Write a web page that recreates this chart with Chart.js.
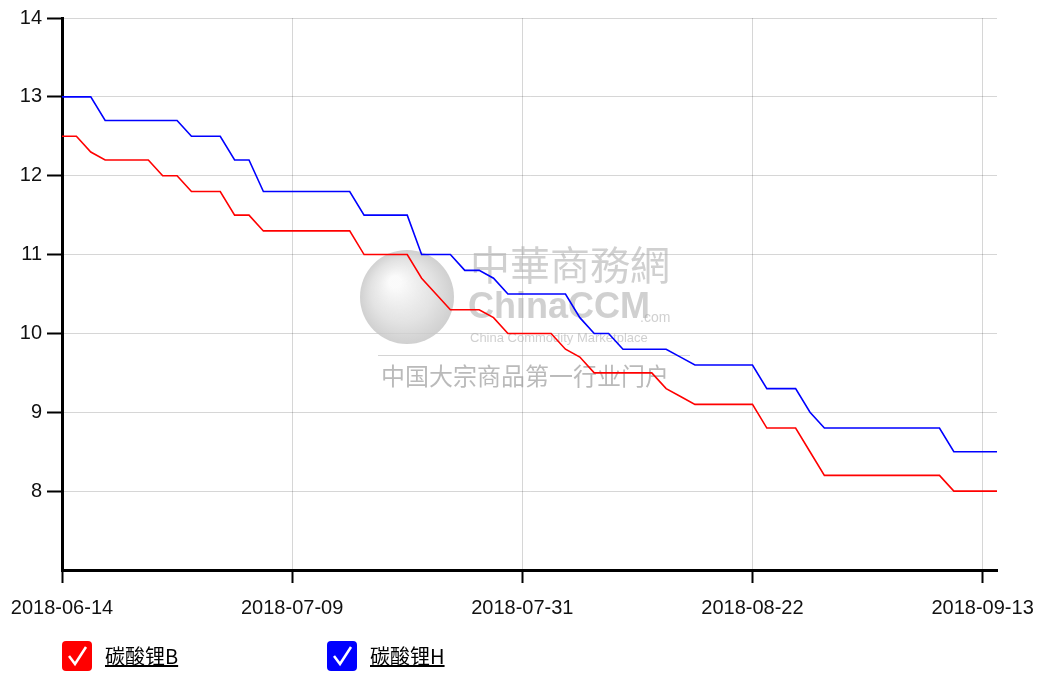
<!DOCTYPE html>
<html>
<head>
<meta charset="utf-8">
<script src="https://cdn.jsdelivr.net/npm/chart.js@4.4.1/dist/chart.umd.min.js"></script>
<style>
  html, body { margin: 0; padding: 0; background: #fff; }
  #wrap { position: relative; width: 1040px; height: 673px; }
  #chart { position: absolute; left: 0; top: 0; }
  .leg { position: absolute; top: 641px; display: flex; align-items: center; }
  .leg .box { width: 30px; height: 30px; border-radius: 4px; }
  .leg .box svg { display: block; }
  .leg span { margin-left: 13px; font: 20px "Noto Sans CJK SC", sans-serif; color: #000; text-decoration: underline; line-height: 30px; }
</style>
</head>
<body>
<div id="wrap">
  <canvas id="chart" width="1040" height="673"></canvas>
  <div class="leg" style="left:62px"><div class="box" style="background:#ff0000"><svg width="30" height="30"><polyline points="7,15 13,23 24,6" fill="none" stroke="#fff" stroke-width="2.5"/></svg></div><span>碳酸锂B</span></div>
  <div class="leg" style="left:327px"><div class="box" style="background:#0000ff"><svg width="30" height="30"><polyline points="7,15 13,23 24,6" fill="none" stroke="#fff" stroke-width="2.5"/></svg></div><span>碳酸锂H</span></div>
</div>
<script>
// Trading days (2018)
const labels = [
  '2018-06-14', '2018-06-15', '2018-06-19', '2018-06-20', '2018-06-21', '2018-06-22',
  '2018-06-25', '2018-06-26', '2018-06-27', '2018-06-28', '2018-06-29',
  '2018-07-02', '2018-07-03', '2018-07-04', '2018-07-05', '2018-07-06',
  '2018-07-09', '2018-07-10', '2018-07-11', '2018-07-12', '2018-07-13',
  '2018-07-16', '2018-07-17', '2018-07-18', '2018-07-19', '2018-07-20',
  '2018-07-23', '2018-07-24', '2018-07-25', '2018-07-26', '2018-07-27',
  '2018-07-30', '2018-07-31', '2018-08-01', '2018-08-02', '2018-08-03',
  '2018-08-06', '2018-08-07', '2018-08-08', '2018-08-09', '2018-08-10',
  '2018-08-13', '2018-08-14', '2018-08-15', '2018-08-16', '2018-08-17',
  '2018-08-20', '2018-08-21', '2018-08-22', '2018-08-23', '2018-08-24',
  '2018-08-27', '2018-08-28', '2018-08-29', '2018-08-30', '2018-08-31',
  '2018-09-03', '2018-09-04', '2018-09-05', '2018-09-06', '2018-09-07',
  '2018-09-10', '2018-09-11', '2018-09-12', '2018-09-13', '2018-09-14'
];

// 碳酸锂B
const seriesB = [
  12.5, 12.5, 12.3, 12.2, 12.2, 12.2, 12.2, 12.0, 12.0, 11.8, 11.8,
  11.8, 11.5, 11.5, 11.3, 11.3, 11.3, 11.3, 11.3, 11.3, 11.3,
  11.0, 11.0, 11.0, 11.0, 10.7, 10.5, 10.3, 10.3, 10.3, 10.2,
  10.0, 10.0, 10.0, 10.0, 9.8, 9.7, 9.5, 9.5, 9.5, 9.5,
  9.5, 9.3, 9.2, 9.1, 9.1, 9.1, 9.1, 9.1, 8.8, 8.8,
  8.8, 8.5, 8.2, 8.2, 8.2, 8.2, 8.2, 8.2, 8.2, 8.2,
  8.2, 8.0, 8.0, 8.0, 8.0
];

// 碳酸锂H
const seriesH = [
  13.0, 13.0, 13.0, 12.7, 12.7, 12.7, 12.7, 12.7, 12.7, 12.5, 12.5,
  12.5, 12.2, 12.2, 11.8, 11.8, 11.8, 11.8, 11.8, 11.8, 11.8,
  11.5, 11.5, 11.5, 11.5, 11.0, 11.0, 11.0, 10.8, 10.8, 10.7,
  10.5, 10.5, 10.5, 10.5, 10.5, 10.2, 10.0, 10.0, 9.8, 9.8,
  9.8, 9.8, 9.7, 9.6, 9.6, 9.6, 9.6, 9.6, 9.3, 9.3,
  9.3, 9.0, 8.8, 8.8, 8.8, 8.8, 8.8, 8.8, 8.8, 8.8,
  8.8, 8.5, 8.5, 8.5, 8.5
];

const tickEvery = 16;
const gridColor = 'rgba(0,0,0,0.16)';

// Faint site watermark behind the lines
const watermark = {
  id: 'watermark',
  beforeDatasetsDraw(c) {
    const ctx = c.ctx;
    ctx.save();
    const g = ctx.createRadialGradient(395, 282, 6, 407, 297, 48);
    g.addColorStop(0, 'rgba(250,250,250,0.9)');
    g.addColorStop(0.6, 'rgba(220,220,220,0.8)');
    g.addColorStop(1, 'rgba(195,195,195,0.8)');
    ctx.fillStyle = g;
    ctx.beginPath();
    ctx.arc(407, 297, 47, 0, Math.PI * 2);
    ctx.fill();
    ctx.fillStyle = 'rgba(170,170,170,0.55)';
    ctx.font = '40px "Noto Sans CJK SC"';
    ctx.textBaseline = 'alphabetic';
    ctx.fillText('中華商務網', 470, 280);
    ctx.font = 'bold 36px "Liberation Sans"';
    ctx.fillText('ChinaCCM', 468, 318);
    ctx.font = '14px "Liberation Sans"';
    ctx.fillText('.com', 640, 322);
    ctx.font = '13px "Liberation Sans"';
    ctx.fillText('China Commodity Marketplace', 470, 342);
    ctx.fillStyle = 'rgba(170,170,170,0.5)';
    ctx.fillRect(378, 355, 312, 1);
    ctx.fillStyle = 'rgba(140,140,140,0.6)';
    ctx.font = '24px "Noto Sans CJK SC"';
    ctx.fillText('中国大宗商品第一行业门户', 381, 385);
    ctx.restore();
  }
};

new Chart(document.getElementById('chart'), {
  type: 'line',
  data: {
    labels,
    datasets: [
      {
        label: '碳酸锂B',
        data: seriesB,
        borderColor: '#ff0000',
        borderWidth: 1.6,
        pointRadius: 0,
        tension: 0,
        fill: false,
      },
      {
        label: '碳酸锂H',
        data: seriesH,
        borderColor: '#0000ff',
        borderWidth: 1.6,
        pointRadius: 0,
        tension: 0,
        fill: false,
      },
    ],
  },
  options: {
    responsive: false,
    animation: false,
    layout: { padding: { left: 0, right: 43, top: 18, bottom: 0 } },
    plugins: {
      legend: { display: false },
      tooltip: { enabled: false },
    },
    scales: {
      x: {
        type: 'category',
        offset: false,
        afterFit: s => { s.height = 103; s.paddingLeft = 0; s.paddingRight = 0; },
        border: { color: '#000', width: 3 },
        grid: {
          color: ctx => (ctx.index % tickEvery === 0 ? gridColor : 'rgba(0,0,0,0)'),
          tickColor: ctx => (ctx.index % tickEvery === 0 ? '#000' : 'rgba(0,0,0,0)'),
          tickLength: 13,
          tickWidth: 2,
        },
        ticks: {
          autoSkip: false,
          maxRotation: 0,
          minRotation: 0,
          padding: 13,
          color: '#111',
          font: { family: 'Liberation Sans', size: 20 },
          callback: (v, i) => (i % tickEvery === 0 ? labels[i] : ''),
        },
      },
      y: {
        min: 7,
        max: 14,
        afterFit: s => { s.width = 62; },
        border: { color: '#000', width: 3 },
        grid: {
          color: ctx => (ctx.tick && ctx.tick.value === 7 ? 'rgba(0,0,0,0)' : gridColor),
          tickColor: ctx => (ctx.tick && ctx.tick.value === 7 ? 'rgba(0,0,0,0)' : '#000'),
          tickLength: 15,
          tickWidth: 2,
        },
        ticks: {
          stepSize: 1,
          padding: 5,
          color: '#111',
          font: { family: 'Liberation Sans', size: 20 },
          callback: v => (v === 7 ? '' : v),
        },
      },
    },
  },
  plugins: [watermark],
});
</script>
</body>
</html>
